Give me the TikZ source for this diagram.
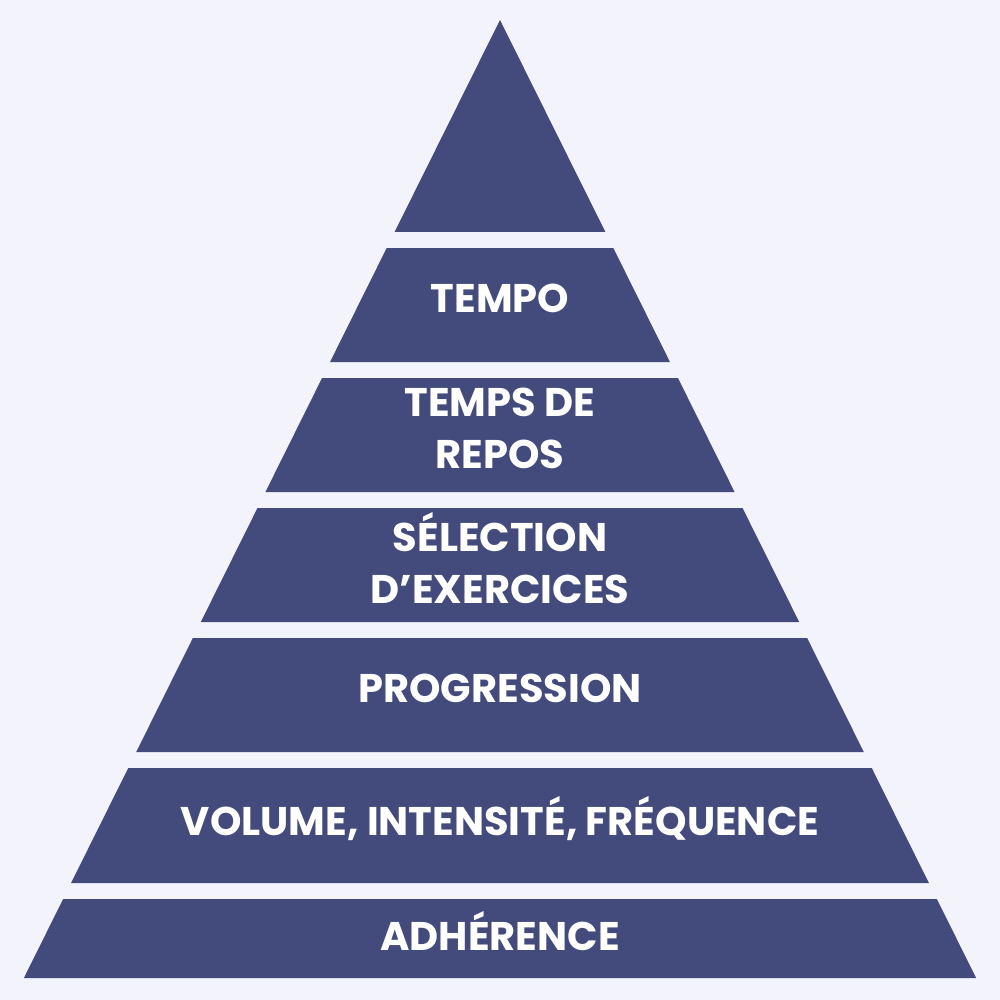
\documentclass[tikz,border=0pt]{standalone}
\usepackage{fontspec}
\setmainfont{Poppins}[BoldFont={* Bold}]
\definecolor{bg}{HTML}{F3F4FB}
\definecolor{band}{HTML}{434A7C}
\begin{document}
\begin{tikzpicture}[x=1pt,y=-1pt,
  lvl/.style={fill=band,draw=none},
  lab/.style={text=white,font=\fontsize{40}{52}\selectfont\bfseries,align=center}]
\fill[bg] (0,0) rectangle (1000,1000);
\useasboundingbox (0,0) rectangle (1000,1000);
\newcommand{\band}[4]{% name, top, bottom
  \fill[lvl] ({500-0.497*(#2-20)},#2) -- ({500+0.497*(#2-20)},#2) -- ({500+0.497*(#3-20)},#3) -- ({500-0.497*(#3-20)},#3) -- cycle;
  \node[lab] (#1) at (500,{(#2+#3)/2-7}) {#4};}
\fill[lvl] (500,20) -- (605.4,232) -- (394.6,232) -- cycle;
\band{b2}{248}{362}{TEMPO}
\band{b3}{378}{492}{TEMPS DE\\REPOS}
\band{b4}{508}{622}{SÉLECTION\\D’EXERCICES}
\band{b5}{638}{752}{PROGRESSION}
\band{b6}{768}{883}{VOLUME, INTENSITÉ, FRÉQUENCE}
\band{b7}{899}{978}{ADHÉRENCE}
\end{tikzpicture}
\end{document}
